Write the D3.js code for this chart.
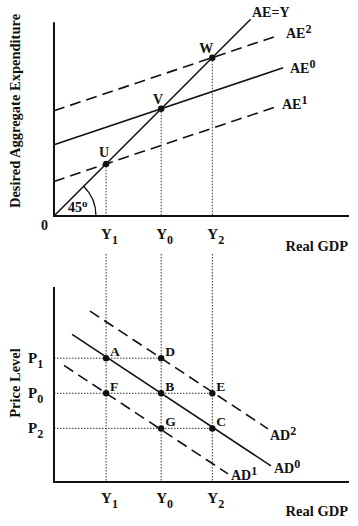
<!DOCTYPE html>
<html><head><meta charset="utf-8">
<script src="https://cdn.jsdelivr.net/npm/d3@7"></script>
<style>
html,body{margin:0;padding:0;background:#fff;}
svg text{font-family:"Liberation Serif","Times New Roman",serif;font-weight:bold;fill:#111;}
</style></head>
<body><svg id="c" width="358" height="526"></svg>
<script>
// ---- data (economic model units) ----
const incomeLevels = [{name:"Y",sub:"1",x:26.5},{name:"Y",sub:"0",x:54.5},{name:"Y",sub:"2",x:80.5}];
const priceLevels = [{name:"P",sub:"1",y:63.5},{name:"P",sub:"0",y:45.5},{name:"P",sub:"2",y:27.5}];
const aeSlope = 0.336;
const aeLines = [
  {name:"AE",sup:"2",intercept:53.5,xEnd:113,dashed:true},
  {name:"AE",sup:"0",intercept:36.2,xEnd:116.5,dashed:false},
  {name:"AE",sup:"1",intercept:17.6,xEnd:113.5,dashed:true}
];
const aeY = {xEnd:100};
const aePoints = [{label:"U",x:26.5},{label:"V",x:54.5},{label:"W",x:80.5}];
const adSlope = -0.667;
const adLines = [
  {name:"AD",sup:"2",px:54.5,py:63.5,x0:18.3,x1:108.8,dashed:true},
  {name:"AD",sup:"0",px:54.5,py:45.5,x0:9.2,x1:110.3,dashed:false},
  {name:"AD",sup:"1",px:26.5,py:45.5,x0:5.1,x1:88.5,dashed:true}
];
const adPoints = [
  {label:"A",x:26.5,y:63.5},{label:"D",x:54.5,y:63.5},
  {label:"F",x:26.5,y:45.5},{label:"B",x:54.5,y:45.5},{label:"E",x:80.5,y:45.5},
  {label:"G",x:54.5,y:27.5},{label:"C",x:80.5,y:27.5}
];
const hGuides = [{y:63.5,x:54.5},{y:45.5,x:80.5},{y:27.5,x:80.5}];

// ---- scales ----
const x = d3.scaleLinear().domain([0,150]).range([54,349]);
const unit = (349-54)/150;
const yT = d3.scaleLinear().domain([0,100]).range([216,216-100*unit]);
const yB = d3.scaleLinear().domain([0,100]).range([482,287]);

const svg = d3.select("#c");
const line = d3.line();
const DASH = "11,6";

function subText(g, px, py, main, sub, size, subSize, mode){
  const t = g.append("text").attr("x",px).attr("y",py).style("font-size",size+"px");
  t.append("tspan").text(main);
  const dy = mode==="sub" ? size*0.32 : -size*0.38;
  t.append("tspan").style("font-size",subSize+"px").attr("dy",dy).text(sub);
  return t;
}

// ===== TOP PANEL =====
const gTop = svg.append("g");
incomeLevels.forEach(d=>{
  gTop.append("line").attr("x1",x(d.x)).attr("x2",x(d.x)).attr("y1",yT(d.x)).attr("y2",yT(0))
    .attr("stroke","#333").attr("stroke-width",1).attr("stroke-dasharray","1.5,1.5");
});
gTop.append("path").attr("d",line([[x(0),yT(98.5)],[x(0),yT(0)],[x(150),yT(0)]]))
  .attr("fill","none").attr("stroke","#111").attr("stroke-width",2);
gTop.append("path").attr("d",line([[x(0),yT(0)],[x(aeY.xEnd),yT(aeY.xEnd)]]))
  .attr("stroke","#111").attr("stroke-width",1.5);
aeLines.forEach(d=>{
  gTop.append("path").attr("d",line([[x(0),yT(d.intercept)],[x(d.xEnd),yT(d.intercept+aeSlope*d.xEnd)]]))
    .attr("stroke","#111").attr("stroke-width",1.6).attr("stroke-dasharray",d.dashed?DASH:null);
});
const r = 42;
gTop.append("path").attr("d",d3.arc()({innerRadius:r,outerRadius:r,startAngle:Math.PI/4,endAngle:Math.PI/2}))
  .attr("transform",`translate(${x(0)},${yT(0)})`).attr("fill","none").attr("stroke","#111").attr("stroke-width",1.3);
subText(gTop, 68, 212, "45", "o", 14, 11, "sup");
aePoints.forEach(d=>{
  gTop.append("circle").attr("cx",x(d.x)).attr("cy",yT(d.x)).attr("r",3.2).attr("fill","#111");
});
gTop.append("text").attr("x",x(26.5)-2).attr("y",157).attr("text-anchor","middle").style("font-size","14px").text("U");
gTop.append("text").attr("x",x(54.5)-3).attr("y",104).attr("text-anchor","middle").style("font-size","14px").text("V");
gTop.append("text").attr("x",x(80.5)-6).attr("y",53).attr("text-anchor","middle").style("font-size","14px").text("W");
gTop.append("text").attr("x",252).attr("y",17).style("font-size","14px").text("AE=Y");
const aeLabelPos = [[286,38],[290,73],[282,109]];
aeLines.forEach((d,i)=>subText(gTop, aeLabelPos[i][0], aeLabelPos[i][1], d.name, d.sup, 14, 12, "sup"));
gTop.append("text").attr("x",41).attr("y",230).style("font-size","14px").text("0");
incomeLevels.forEach(d=>subText(gTop, x(d.x)-5, 239, d.name, d.sub, 15, 12, "sub"));
gTop.append("text").attr("x",348).attr("y",251).attr("text-anchor","end").style("font-size","14.5px").text("Real GDP");
gTop.append("text").attr("transform","translate(20,111) rotate(-90)").attr("text-anchor","middle")
  .style("font-size","14.5px").text("Desired Aggregate Expenditure");

// ===== BOTTOM PANEL =====
const gBot = svg.append("g");
incomeLevels.forEach(d=>{
  gBot.append("line").attr("x1",x(d.x)).attr("x2",x(d.x)).attr("y1",254).attr("y2",yB(0))
    .attr("stroke","#333").attr("stroke-width",1).attr("stroke-dasharray","1.5,1.5");
});
hGuides.forEach(d=>{
  gBot.append("line").attr("x1",x(0)).attr("x2",x(d.x)).attr("y1",yB(d.y)).attr("y2",yB(d.y))
    .attr("stroke","#333").attr("stroke-width",1).attr("stroke-dasharray","1.5,1.5");
});
gBot.append("path").attr("d",line([[x(0),yB(100)],[x(0),yB(0)],[x(150),yB(0)]]))
  .attr("fill","none").attr("stroke","#111").attr("stroke-width",2);
adLines.forEach(d=>{
  const f = v=>d.py+adSlope*(v-d.px);
  gBot.append("path").attr("d",line([[x(d.x0),yB(f(d.x0))],[x(d.x1),yB(f(d.x1))]]))
    .attr("stroke","#111").attr("stroke-width",1.6).attr("stroke-dasharray",d.dashed?DASH:null);
});
adPoints.forEach(d=>{
  gBot.append("circle").attr("cx",x(d.x)).attr("cy",yB(d.y)).attr("r",3.2).attr("fill","#111");
  gBot.append("text").attr("x",x(d.x)+4).attr("y",yB(d.y)-2).style("font-size","13.5px").text(d.label);
});
const adLabelPos = [[270,440],[274,473],[231,480]];
adLines.forEach((d,i)=>subText(gBot, adLabelPos[i][0], adLabelPos[i][1], d.name, d.sup, 14, 12, "sup"));
priceLevels.forEach(d=>subText(gBot, 28, yB(d.y)+5, d.name, d.sub, 15, 12, "sub"));
incomeLevels.forEach(d=>subText(gBot, x(d.x)-5, 503, d.name, d.sub, 15, 12, "sub"));
gBot.append("text").attr("x",348).attr("y",516).attr("text-anchor","end").style("font-size","14.5px").text("Real GDP");
gBot.append("text").attr("transform","translate(20,383) rotate(-90)").attr("text-anchor","middle")
  .style("font-size","14.5px").text("Price Level");
</script></body></html>
